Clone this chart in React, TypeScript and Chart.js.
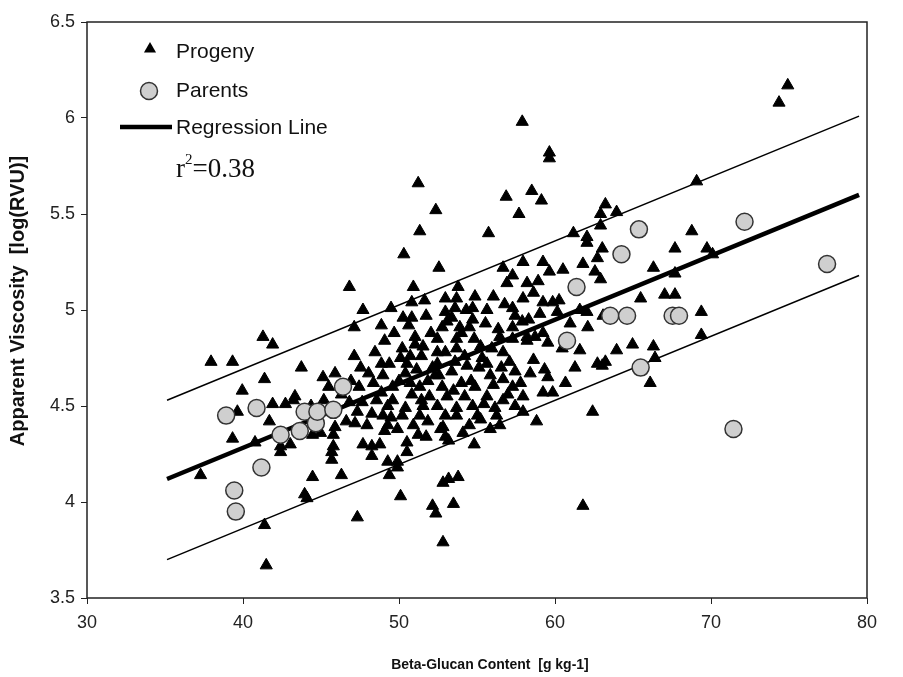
import React, { useEffect, useRef } from "react";
import { Chart, registerables } from "chart.js";

Chart.register(...registerables);

// ---- data ----
const xTickValues = [30, 40, 50, 60, 70, 80];
const yTickValues = [3.5, 4, 4.5, 5, 5.5, 6, 6.5];

const parents: [number, number][] = [
  [38.92, 4.45], [40.87, 4.49], [41.18, 4.18], [39.44, 4.06], [39.54, 3.95],
  [42.41, 4.35], [43.64, 4.37], [43.95, 4.47], [44.67, 4.41], [44.77, 4.47],
  [45.79, 4.48], [46.41, 4.6], [64.26, 5.29], [61.38, 5.12], [63.54, 4.97],
  [64.62, 4.97], [67.54, 4.97], [67.95, 4.97], [60.77, 4.84], [65.49, 4.7],
  [65.38, 5.42], [72.15, 5.46], [77.44, 5.24], [71.44, 4.38],
];

const progeny: [number, number][] = [
  [74.92, 6.17], [74.36, 6.08], [57.9, 5.98], [59.64, 5.82], [59.64, 5.79], [51.23, 5.66],
  [69.08, 5.67], [58.51, 5.62], [56.87, 5.59], [59.13, 5.57], [63.23, 5.55], [52.36, 5.52],
  [57.69, 5.5], [62.92, 5.5], [63.95, 5.51], [62.92, 5.44], [51.33, 5.41], [55.74, 5.4],
  [61.18, 5.4], [68.77, 5.41], [62.05, 5.38], [62.05, 5.35], [69.74, 5.32], [70.1, 5.29],
  [63.03, 5.32], [67.69, 5.32], [62.72, 5.27], [50.31, 5.29], [57.95, 5.25], [59.23, 5.25],
  [52.56, 5.22], [56.67, 5.22], [60.51, 5.21], [61.79, 5.24], [59.64, 5.2], [62.56, 5.2],
  [66.31, 5.22], [57.28, 5.18], [67.69, 5.19], [62.92, 5.16], [58.92, 5.15], [58.21, 5.14],
  [56.92, 5.14], [46.82, 5.12], [50.92, 5.12], [53.79, 5.12], [58.62, 5.09], [57.95, 5.06],
  [59.23, 5.04], [59.85, 5.04], [60.26, 5.05], [65.49, 5.06], [67.03, 5.08], [67.69, 5.08],
  [69.38, 4.99], [60.15, 4.99], [59.03, 4.98], [61.59, 5.0], [62.05, 4.99], [63.08, 4.97],
  [57.9, 4.94], [62.1, 4.91], [69.38, 4.87], [58.21, 4.86], [58.72, 4.86], [59.23, 4.88],
  [58.21, 4.84], [59.54, 4.83], [61.59, 4.79], [63.95, 4.79], [64.97, 4.82], [66.31, 4.81],
  [66.41, 4.75], [58.62, 4.74], [59.33, 4.69], [59.54, 4.65], [62.72, 4.72], [63.23, 4.73],
  [63.03, 4.71], [66.1, 4.62], [59.23, 4.57], [59.85, 4.57], [57.79, 4.62], [57.95, 4.47],
  [62.41, 4.47], [58.41, 4.67], [57.95, 4.55], [58.82, 4.42], [61.79, 3.98],
  [52.82, 3.79], [47.33, 3.92], [50.1, 4.03], [52.15, 3.98], [52.36, 3.94], [53.49, 3.99],
  [52.82, 4.1], [53.18, 4.12], [53.79, 4.13], [46.31, 4.14], [49.38, 4.14], [49.28, 4.21],
  [49.9, 4.21], [49.9, 4.18], [50.51, 4.26], [50.51, 4.31], [47.69, 4.3], [48.26, 4.29],
  [48.26, 4.24], [51.23, 4.35], [45.69, 4.22], [45.79, 4.29], [52.82, 4.39], [52.97, 4.34],
  [53.18, 4.32], [51.85, 4.42], [49.28, 4.4], [49.9, 4.38], [56.46, 4.4], [47.18, 4.41],
  [45.9, 4.39], [45.79, 4.35], [45.69, 4.26], [49.08, 4.37], [52.67, 4.38],
  [41.49, 3.67], [41.38, 3.88], [43.95, 4.04], [44.1, 4.02], [44.46, 4.13], [37.28, 4.14],
  [39.33, 4.33], [40.77, 4.31], [42.41, 4.26], [42.41, 4.29], [43.03, 4.3], [41.69, 4.42],
  [44.46, 4.35], [44.97, 4.36],
  [41.28, 4.86], [41.9, 4.82], [37.95, 4.73], [39.33, 4.73], [43.74, 4.7], [41.38, 4.64],
  [45.13, 4.65], [39.95, 4.58], [41.9, 4.51], [42.72, 4.51], [43.23, 4.53], [43.33, 4.55],
  [39.64, 4.47], [45.49, 4.6],
  [47.69, 5.0], [50.82, 5.04], [51.64, 5.05], [52.97, 5.06], [53.69, 5.06], [54.87, 5.07],
  [56.05, 5.07], [56.77, 5.03], [47.13, 4.91], [50.26, 4.96], [50.82, 4.96], [52.97, 4.99],
  [54.72, 5.01], [53.08, 4.94], [53.38, 4.96], [54.72, 4.95], [54.51, 4.91], [52.77, 4.91],
  [53.9, 4.91], [57.44, 4.97], [56.36, 4.9], [47.13, 4.76], [51.03, 4.86], [51.03, 4.82],
  [50.21, 4.8], [51.54, 4.81], [52.46, 4.85], [53.69, 4.85], [55.23, 4.81], [56.46, 4.86],
  [56.67, 4.78], [50.1, 4.75], [50.72, 4.76], [51.44, 4.76], [52.46, 4.78], [52.97, 4.78],
  [53.69, 4.8], [55.33, 4.75], [55.64, 4.72], [48.87, 4.72], [49.38, 4.72], [48.05, 4.67],
  [48.97, 4.66], [50.41, 4.67], [52.46, 4.72], [52.31, 4.66], [53.38, 4.68], [54.36, 4.71],
  [55.85, 4.66], [56.67, 4.64], [57.44, 4.68], [48.36, 4.62], [49.59, 4.6], [50.72, 4.62],
  [51.33, 4.6], [52.77, 4.6], [54.0, 4.62], [54.87, 4.6], [56.05, 4.61], [57.28, 4.6],
  [48.87, 4.57], [50.82, 4.56], [51.95, 4.55], [53.08, 4.55], [54.21, 4.55], [55.64, 4.55],
  [56.67, 4.53], [47.64, 4.52], [49.28, 4.5], [50.41, 4.49], [51.54, 4.5], [52.46, 4.5],
  [53.69, 4.49], [54.72, 4.5], [56.15, 4.49], [57.44, 4.5], [48.26, 4.46], [51.33, 4.45],
  [52.97, 4.45], [55.03, 4.45], [46.82, 4.52], [47.33, 4.47], [48.97, 4.45], [50.21, 4.45],
  [53.69, 4.45], [56.26, 4.45], [48.56, 4.53], [57.28, 5.01], [57.28, 4.91], [57.28, 4.85],
  [45.9, 4.67], [46.31, 4.56], [55.23, 4.43], [54.51, 4.4], [55.85, 4.38],
  [48.46, 4.78], [49.08, 4.84], [49.69, 4.88], [49.59, 4.53], [50.0, 4.63], [50.51, 4.72],
  [51.13, 4.69], [51.44, 4.53], [51.85, 4.63], [52.05, 4.88], [52.15, 4.7], [52.56, 4.66],
  [53.49, 4.58], [53.59, 4.73], [54.0, 4.88], [54.21, 4.76], [54.62, 4.63], [54.82, 4.85],
  [55.13, 4.7], [55.44, 4.51], [55.54, 4.93], [55.95, 4.8], [56.56, 4.7], [56.98, 4.56],
  [47.44, 4.6], [46.92, 4.63], [47.95, 4.4], [48.77, 4.3], [49.49, 4.44], [50.92, 4.4],
  [51.74, 4.34], [54.1, 4.36], [54.82, 4.3], [44.36, 4.5], [45.18, 4.53], [46.62, 4.42],
  [47.54, 4.7], [50.62, 4.92], [51.74, 4.97], [54.31, 5.0], [55.64, 5.0], [53.59, 5.01],
  [49.49, 5.01], [48.87, 4.92], [57.08, 4.73], [58.31, 4.95], [60.46, 4.8], [60.97, 4.93],
  [60.67, 4.62], [61.28, 4.7],
];

const regressionX = [35.13, 79.49];
const regressionY = [4.12, 5.6];
const upperY = [4.53, 6.01];
const lowerY = [3.7, 5.18];

const xTitle = "Beta-Glucan Content  [g kg-1]";
const yTitle = "Apparent Viscosity  [log(RVU)]";
const legendLabels = ["Progeny", "Parents", "Regression Line"];
const r2Value = "0.38";

const SANS = "'Liberation Sans', Arial, sans-serif";
const SERIF = "'Liberation Serif', 'Times New Roman', serif";

const overlayPlugin = {
  id: "overlay",
  afterDraw(chart: any) {
    const ctx = chart.ctx as CanvasRenderingContext2D;
    const { left, top, right, bottom } = chart.chartArea;
    ctx.save();
    // frame
    ctx.strokeStyle = "#222";
    ctx.lineWidth = 1.5;
    ctx.strokeRect(left, top, right - left, bottom - top);

    // legend
    ctx.fillStyle = "#000";
    const tx = 150, ty = 49, r = 7;
    ctx.beginPath();
    ctx.moveTo(tx, ty - r);
    ctx.lineTo(tx + 0.866 * r, ty + 0.5 * r);
    ctx.lineTo(tx - 0.866 * r, ty + 0.5 * r);
    ctx.closePath();
    ctx.fill();
    ctx.beginPath();
    ctx.arc(149, 91, 8.5, 0, Math.PI * 2);
    ctx.fillStyle = "#cfcfcf";
    ctx.fill();
    ctx.strokeStyle = "#333";
    ctx.lineWidth = 1.5;
    ctx.stroke();
    ctx.beginPath();
    ctx.moveTo(120, 127);
    ctx.lineTo(172, 127);
    ctx.strokeStyle = "#000";
    ctx.lineWidth = 4.5;
    ctx.stroke();

    ctx.fillStyle = "#111";
    ctx.font = `21px ${SANS}`;
    ctx.textAlign = "left";
    ctx.textBaseline = "middle";
    ctx.fillText(legendLabels[0], 176, 52);
    ctx.fillText(legendLabels[1], 176, 91);
    ctx.fillText(legendLabels[2], 176, 128);

    ctx.textBaseline = "alphabetic";
    ctx.font = `27px ${SERIF}`;
    ctx.fillText("r", 176, 177);
    const rw = ctx.measureText("r").width;
    ctx.font = `15px ${SERIF}`;
    ctx.fillText("2", 176 + rw, 164);
    const w2 = ctx.measureText("2").width;
    ctx.font = `27px ${SERIF}`;
    ctx.fillText("=" + r2Value, 176 + rw + w2, 177);

    // axis titles
    ctx.fillStyle = "#111";
    ctx.font = `bold 14px ${SANS}`;
    ctx.textAlign = "center";
    ctx.textBaseline = "middle";
    ctx.fillText(xTitle, 490, 665);
    ctx.font = `bold 20px ${SANS}`;
    ctx.translate(18, 301);
    ctx.rotate(-Math.PI / 2);
    ctx.fillText(yTitle, 0, 0);
    ctx.restore();
  },
};

export default function App() {
  const ref = useRef<HTMLCanvasElement>(null);
  useEffect(() => {
    if (!ref.current) return;
    const line = (ys: number[]) => regressionX.map((x, i) => ({ x, y: ys[i] }));
    const chart = new Chart(ref.current, {
      type: "scatter",
      data: {
        datasets: [
          {
            label: "Parents",
            data: parents.map(([x, y]) => ({ x, y })),
            pointStyle: "circle",
            pointRadius: 8.5,
            backgroundColor: "#cfcfcf",
            borderColor: "#333",
            borderWidth: 1.5,
            order: 0,
          },
          {
            label: "Progeny",
            data: progeny.map(([x, y]) => ({ x, y })),
            pointStyle: "triangle",
            pointRadius: 7,
            backgroundColor: "#000",
            borderColor: "#000",
            borderWidth: 1,
            order: 1,
          },
          {
            type: "line",
            label: "Regression Line",
            data: line(regressionY),
            borderColor: "#000",
            borderWidth: 4.5,
            pointRadius: 0,
            fill: false,
            order: 2,
          } as any,
          {
            type: "line",
            label: "Upper",
            data: line(upperY),
            borderColor: "#000",
            borderWidth: 1.5,
            pointRadius: 0,
            fill: false,
            order: 3,
          } as any,
          {
            type: "line",
            label: "Lower",
            data: line(lowerY),
            borderColor: "#000",
            borderWidth: 1.5,
            pointRadius: 0,
            fill: false,
            order: 3,
          } as any,
        ],
      },
      options: {
        responsive: false,
        animation: false,
        layout: { padding: { top: 22, right: 36, left: 0, bottom: 0 } },
        plugins: { legend: { display: false }, tooltip: { enabled: false } },
        scales: {
          x: {
            type: "linear",
            min: xTickValues[0],
            max: xTickValues[xTickValues.length - 1],
            afterBuildTicks: (s: any) => {
              s.ticks = xTickValues.map((v) => ({ value: v }));
            },
            ticks: {
              color: "#222",
              font: { size: 18, family: SANS },
              padding: 8,
              callback: (v: any) => String(v),
            },
            grid: { display: true, drawOnChartArea: false, drawTicks: true, tickLength: 6, color: "#222" },
            border: { display: false },
            afterFit: (s: any) => {
              s.height = 79;
            },
          },
          y: {
            type: "linear",
            min: yTickValues[0],
            max: yTickValues[yTickValues.length - 1],
            afterBuildTicks: (s: any) => {
              s.ticks = yTickValues.map((v) => ({ value: v }));
            },
            ticks: {
              color: "#222",
              font: { size: 18, family: SANS },
              padding: 6,
              callback: (v: any) => String(v),
            },
            grid: { display: true, drawOnChartArea: false, drawTicks: true, tickLength: 6, color: "#222" },
            border: { display: false },
            afterFit: (s: any) => {
              s.width = 87;
            },
          },
        },
      },
      plugins: [overlayPlugin],
    });
    return () => chart.destroy();
  }, []);
  return (
    <div style={{ position: "absolute", left: 0, top: 0, width: 903, height: 677, background: "#fff" }}>
      <canvas ref={ref} width={903} height={677} style={{ width: 903, height: 677 }} />
    </div>
  );
}
